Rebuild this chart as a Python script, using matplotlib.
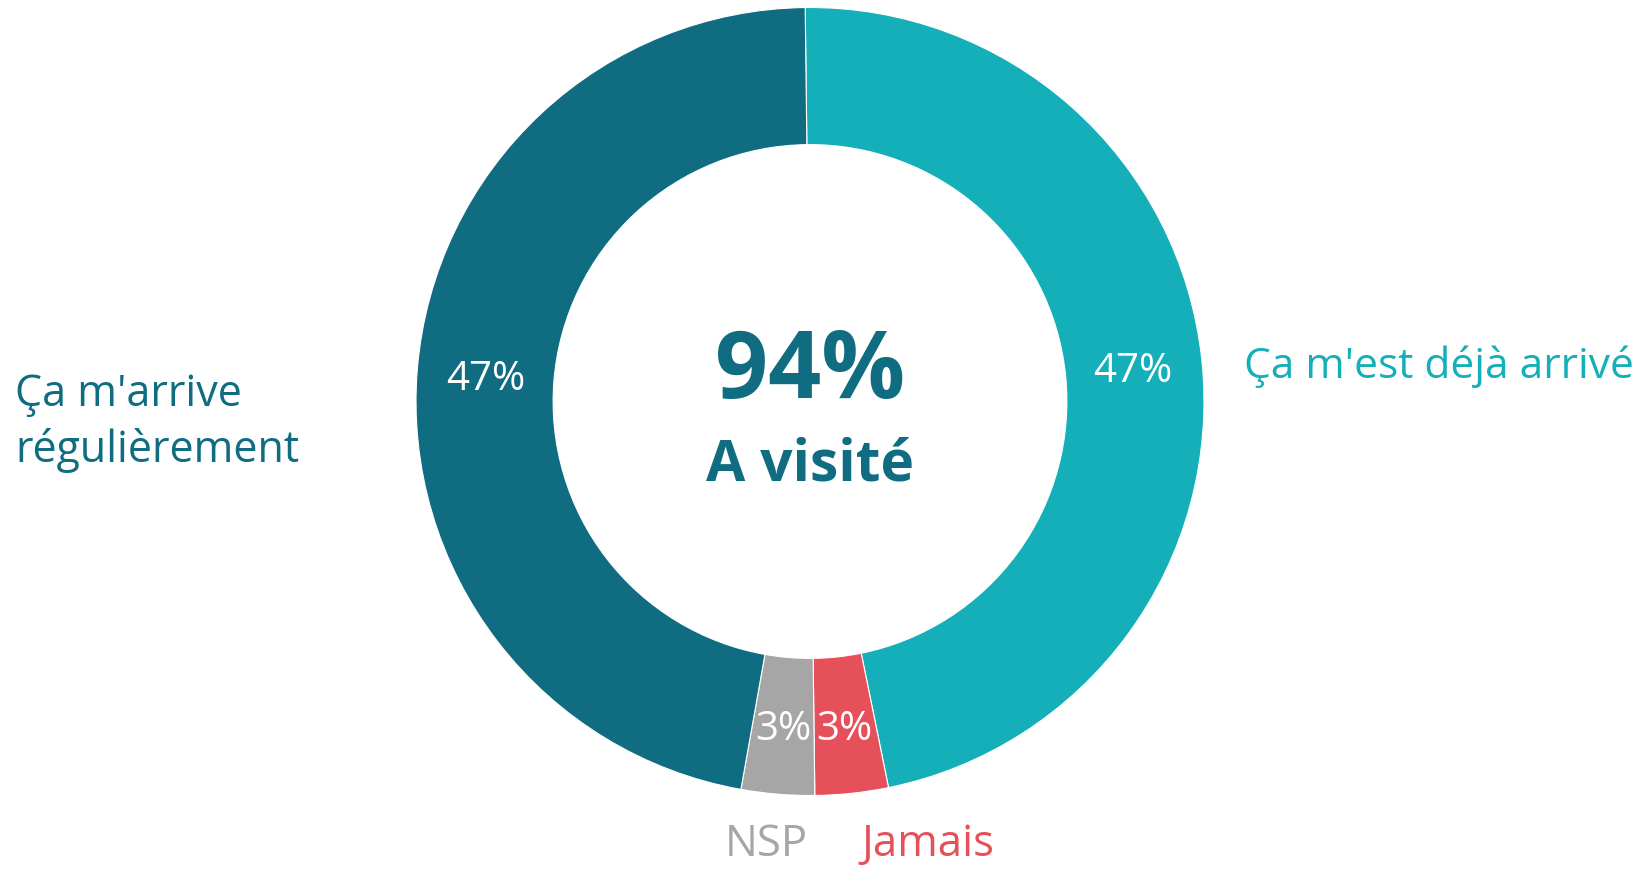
import matplotlib.pyplot as plt
import numpy as np

plt.rcParams['font.family'] = ['Open Sans', 'DejaVu Sans']

# données
categories = ["Ça m'est déjà arrivé", "Jamais", "NSP", "Ça m'arrive\nrégulièrement"]
valeurs = [47, 3, 3, 47]
couleurs = ['#14AFB8', '#E5505A', '#A6A6A6', '#0F6C81']
total_label = "94%"
sous_titre = "A visité"

W, H = 1642, 869
fig = plt.figure(figsize=(W / 100, H / 100), dpi=100)

# anneau centré en (810, 401) px, rayon 394 px
cx, cy, r = 810, 401.5, 394
ax = fig.add_axes([(cx - r) / W, (H - cy - r) / H, 2 * r / W, 2 * r / H])

start = 90.7
wedges, _ = ax.pie(valeurs, colors=couleurs, startangle=start, counterclock=False,
                   radius=1, wedgeprops=dict(width=0.348, edgecolor='white', linewidth=0.8))
ax.set_xlim(-1, 1)
ax.set_ylim(-1, 1)
ax.axis('off')

# pourcentages dans l'anneau
rmid = 0.825
angles = []
a = start
for v in valeurs:
    span = v / sum(valeurs) * 360
    angles.append(a - span / 2)
    a -= span
angles[3] = 175.4  # le label de gauche est placé à la main
for v, ang in zip(valeurs, angles):
    t = np.deg2rad(ang)
    ax.text(rmid * np.cos(t), rmid * np.sin(t) - 0.012, f"{v}%", color='white',
            fontsize=29, ha='center', va='center')

# texte central
ax.text(0, 0.071, total_label, color='#0F6C81', fontsize=67, fontweight='bold',
        ha='center', va='center')
ax.text(0, -0.163, sous_titre, color='#0F6C81', fontsize=41, fontweight='bold',
        ha='center', va='center')

# étiquettes externes
fig.text(15 / W, 1 - 423 / H, categories[3], color=couleurs[3], fontsize=31,
         ha='left', va='center', linespacing=1.32)
fig.text(1244 / W, 1 - 367 / H, categories[0], color=couleurs[0], fontsize=30.6,
         ha='left', va='center')
fig.text(766 / W, 1 - 845 / H, categories[2], color=couleurs[2], fontsize=31.5,
         ha='center', va='center')
fig.text(928 / W, 1 - 845 / H, categories[1], color=couleurs[1], fontsize=31.5,
         ha='center', va='center')

fig.savefig('out.png', dpi=100, facecolor='white')
